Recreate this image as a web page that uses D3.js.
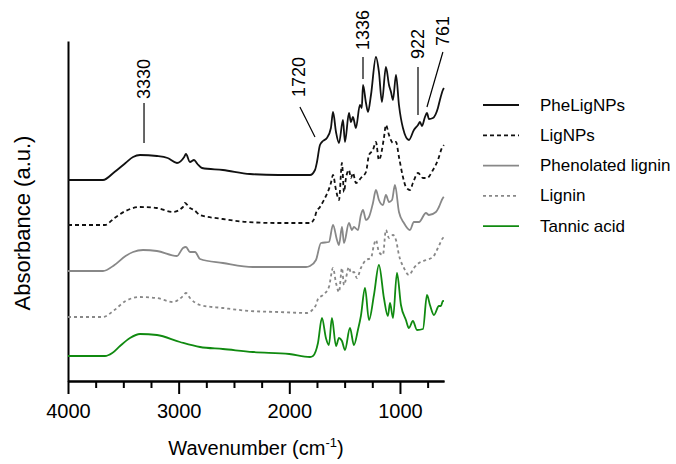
<!DOCTYPE html>
<html>
<head>
<meta charset="utf-8">
<script src="https://cdn.jsdelivr.net/npm/d3@7"></script>
<style>
  body { margin: 0; background: #fff; }
  text { font-family: "Liberation Sans", Arial, sans-serif; fill: #000; }
</style>
</head>
<body>
<div id="chart"></div>
<script>
// FTIR spectra, stacked with offsets

var seriesNames = ["PheLigNPs", "LigNPs", "Phenolated lignin", "Lignin", "Tannic acid"];

// wavenumber (cm-1), absorbance (a.u.)
var pheLigNPs = [
  [4000,2.01],[3684,2.01],[3580,2.09],[3480,2.18],[3412,2.24],[3349,2.26],[3196,2.25],[3100,2.23],
  [3015,2.18],[2950,2.24],[2934,2.27],[2898,2.19],[2861,2.21],[2830,2.17],[2789,2.13],[2600,2.11],
  [2355,2.07],[2100,2.06],[1813,2.06],[1768,2.11],[1750,2.19],[1723,2.36],[1696,2.40],[1660,2.43],
  [1624,2.53],[1605,2.69],[1578,2.49],[1551,2.38],[1515,2.61],[1497,2.39],[1461,2.68],[1443,2.59],
  [1425,2.64],[1398,2.53],[1362,2.76],[1345,2.73],[1334,2.96],[1307,2.78],[1289,2.69],[1262,2.86],
  [1217,3.24],[1190,3.09],[1163,2.79],[1127,3.14],[1099,2.96],[1081,2.89],[1063,2.81],[1036,3.06],
  [1009,2.76],[973,2.53],[919,2.41],[874,2.51],[837,2.56],[819,2.59],[801,2.55],[774,2.64],
  [756,2.68],[738,2.62],[702,2.63],[657,2.73],[639,2.81],[612,2.91],[603,2.93]
];

var ligNPs = [
  [4000,1.56],[3666,1.56],[3580,1.63],[3480,1.70],[3349,1.74],[3200,1.73],[3051,1.69],[2961,1.74],
  [2943,1.78],[2898,1.73],[2861,1.71],[2807,1.66],[2600,1.62],[2383,1.59],[2100,1.58],[1813,1.58],
  [1768,1.64],[1759,1.68],[1723,1.74],[1687,1.81],[1624,1.98],[1605,2.06],[1578,1.91],[1551,1.81],
  [1524,2.18],[1506,1.89],[1488,2.03],[1461,2.11],[1443,2.03],[1425,2.08],[1398,1.98],[1353,2.03],
  [1307,2.09],[1280,2.26],[1244,2.31],[1217,2.39],[1190,2.21],[1145,2.43],[1127,2.56],[1099,2.46],
  [1063,2.38],[1036,2.39],[1009,2.24],[973,2.04],[946,1.94],[910,1.91],[883,1.98],[837,2.08],
  [792,2.03],[756,2.03],[702,2.11],[657,2.21],[621,2.33],[603,2.36]
];

var phenolatedLignin = [
  [4000,1.10],[3684,1.10],[3580,1.16],[3480,1.25],[3412,1.29],[3322,1.31],[3196,1.30],[3015,1.25],
  [2961,1.33],[2934,1.34],[2898,1.29],[2852,1.29],[2807,1.22],[2600,1.18],[2328,1.14],[2100,1.14],
  [1849,1.14],[1813,1.15],[1759,1.21],[1714,1.38],[1642,1.39],[1605,1.56],[1569,1.41],[1551,1.36],
  [1524,1.54],[1506,1.38],[1461,1.58],[1434,1.51],[1416,1.54],[1380,1.51],[1353,1.66],[1334,1.71],
  [1307,1.61],[1280,1.64],[1244,1.78],[1217,1.91],[1190,1.81],[1154,1.76],[1127,1.86],[1099,1.79],
  [1072,1.81],[1045,1.96],[1009,1.69],[964,1.58],[910,1.51],[874,1.59],[828,1.59],[765,1.68],
  [738,1.66],[675,1.69],[648,1.74],[612,1.83],[603,1.84]
];

var lignin = [
  [4000,0.64],[3684,0.64],[3580,0.71],[3480,0.80],[3349,0.84],[3200,0.83],[3051,0.79],[2961,0.85],
  [2934,0.88],[2898,0.83],[2807,0.76],[2600,0.73],[2355,0.70],[2100,0.69],[1840,0.68],[1813,0.69],
  [1777,0.73],[1759,0.76],[1741,0.82],[1696,0.86],[1642,0.94],[1605,1.13],[1578,0.98],[1551,0.89],
  [1524,1.13],[1506,0.96],[1461,1.14],[1443,1.08],[1416,1.09],[1389,1.03],[1353,1.13],[1307,1.21],
  [1262,1.23],[1235,1.36],[1217,1.41],[1190,1.29],[1154,1.26],[1127,1.51],[1099,1.43],[1063,1.46],
  [1036,1.41],[1009,1.26],[964,1.13],[919,1.06],[874,1.13],[828,1.18],[765,1.21],[702,1.24],
  [657,1.33],[612,1.43],[603,1.44]
];

var tannicAcid = [
  [4000,0.25],[3666,0.25],[3600,0.28],[3530,0.35],[3440,0.43],[3349,0.47],[3196,0.46],[2988,0.39],
  [2807,0.34],[2600,0.32],[2328,0.29],[2000,0.27],[1813,0.24],[1786,0.25],[1741,0.38],[1705,0.63],
  [1669,0.43],[1642,0.36],[1615,0.63],[1578,0.35],[1551,0.43],[1524,0.40],[1497,0.31],[1452,0.53],
  [1416,0.36],[1380,0.51],[1353,0.65],[1316,0.93],[1280,0.61],[1235,0.86],[1190,1.16],[1145,0.83],
  [1109,0.65],[1090,0.78],[1063,0.63],[1027,1.08],[991,0.76],[946,0.61],[919,0.53],[883,0.60],
  [846,0.51],[792,0.52],[756,0.86],[729,0.76],[693,0.66],[648,0.75],[630,0.75],[612,0.80],[603,0.80]
];

var seriesData = [pheLigNPs, ligNPs, phenolatedLignin, lignin, tannicAcid];
var seriesColors = ["#111111", "#111111", "#888888", "#888888", "#108a10"];
var seriesDash = [null, "4,3", null, "3,3", null];

var majorTicks = [4000, 3000, 2000, 1000];
var minorTicks = [3750, 3500, 3250, 2750, 2500, 2250, 1750, 1500, 1250, 750];

// peak labels: text, line start [wn, abs], line end [wn, abs], label centre [wn, abs]
var peakLabels = ["3330", "1720", "1336", "922", "761"];
var peakLineFrom = [[3313,2.78],[1904,2.74],[1334,3.24],[837,3.14],[612,3.29]];
var peakLineTo = [[3313,2.38],[1768,2.44],[1334,3.02],[837,2.66],[756,2.74]];
var peakTextAt = [[3313,3.02],[1913,3.04],[1334,3.51],[837,3.37],[612,3.50]];

// canvas
var svgWidth = 676;
var svgHeight = 464;
var margin = { top: 41, left: 68, right: 232, bottom: 83 };
var plotWidth = svgWidth - margin.left - margin.right;
var plotHeight = svgHeight - margin.top - margin.bottom;

var svg = d3.select("#chart")
  .append("svg")
  .attr("width", svgWidth)
  .attr("height", svgHeight);

var chartGroup = svg.append("g")
  .attr("transform", `translate(${margin.left}, ${margin.top})`);

var x = d3.scaleLinear().domain([4000, 602]).range([0, plotWidth]);
var y = d3.scaleLinear().domain([0, 3.4]).range([plotHeight, 0]);

// axes
var xAxis = chartGroup.append("g")
  .attr("transform", `translate(0, ${plotHeight})`)
  .call(d3.axisBottom(x).tickValues(majorTicks).tickFormat(d3.format("d"))
    .tickSize(13).tickSizeOuter(0).tickPadding(10));
xAxis.selectAll("text").attr("font-size", 20).style("font-family", "Liberation Sans, Arial, sans-serif");

var xMinor = chartGroup.append("g")
  .attr("transform", `translate(0, ${plotHeight})`)
  .call(d3.axisBottom(x).tickValues(minorTicks).tickFormat("").tickSize(7).tickSizeOuter(0));

var yAxis = chartGroup.append("g")
  .call(d3.axisLeft(y).tickValues([]).tickSizeOuter(0));

chartGroup.selectAll(".domain, .tick line")
  .attr("stroke", "#000")
  .attr("stroke-width", 2);

// spectra
var line = d3.line()
  .x(d => x(d[0]))
  .y(d => y(d[1]))
  .curve(d3.curveMonotoneX);

chartGroup.selectAll(".spectrum")
  .data(seriesData)
  .enter()
  .append("path")
  .attr("class", "spectrum")
  .attr("d", line)
  .attr("fill", "none")
  .attr("stroke", (d, i) => seriesColors[i])
  .attr("stroke-width", 1.8)
  .attr("stroke-dasharray", (d, i) => seriesDash[i])
  .attr("stroke-linejoin", "round");

// peak annotations
peakLabels.forEach(function(label, i) {
  chartGroup.append("line")
    .attr("x1", x(peakLineFrom[i][0]))
    .attr("y1", y(peakLineFrom[i][1]))
    .attr("x2", x(peakLineTo[i][0]))
    .attr("y2", y(peakLineTo[i][1]))
    .attr("stroke", "#000")
    .attr("stroke-width", 1.2);

  chartGroup.append("text")
    .attr("transform", `translate(${x(peakTextAt[i][0])}, ${y(peakTextAt[i][1])}) rotate(-90)`)
    .attr("text-anchor", "middle")
    .attr("dominant-baseline", "central")
    .attr("font-size", 18)
    .text(label);
});

// axis titles
var xTitle = svg.append("text")
  .attr("x", margin.left + 188)
  .attr("y", 455)
  .attr("text-anchor", "middle")
  .attr("font-size", 20);
xTitle.append("tspan").text("Wavenumber (cm");
xTitle.append("tspan").attr("font-size", 13).attr("dy", -8).text("-1");
xTitle.append("tspan").attr("dy", 8).text(")");

svg.append("text")
  .attr("transform", "translate(22, 223) rotate(-90)")
  .attr("text-anchor", "middle")
  .attr("dominant-baseline", "central")
  .attr("font-size", 22)
  .text("Absorbance (a.u.)");

// legend
var legend = svg.append("g").attr("transform", "translate(483, 105)");
var rowGap = 30.3;

seriesNames.forEach(function(name, i) {
  legend.append("line")
    .attr("x1", 0).attr("x2", 36)
    .attr("y1", i * rowGap).attr("y2", i * rowGap)
    .attr("stroke", seriesColors[i])
    .attr("stroke-width", 1.8)
    .attr("stroke-dasharray", seriesDash[i]);
  legend.append("text")
    .attr("x", 57)
    .attr("y", i * rowGap)
    .attr("dominant-baseline", "central")
    .attr("font-size", 17)
    .text(name);
});
</script>
</body>
</html>
